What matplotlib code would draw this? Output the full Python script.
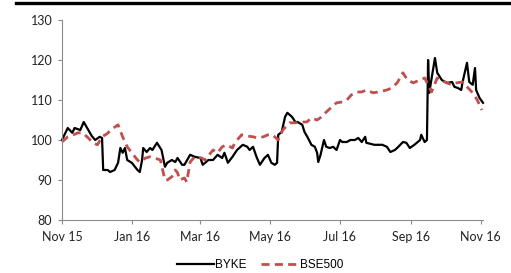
import matplotlib
matplotlib.use("Agg")
import matplotlib.pyplot as plt
import matplotlib.dates as mdates
from matplotlib.lines import Line2D
import pandas as pd

byke_dates = ["2015-11-01","2015-11-06","2015-11-10","2015-11-12","2015-11-17","2015-11-20","2015-11-23",
    "2015-11-27","2015-11-30","2015-12-04","2015-12-06","2015-12-07","2015-12-11","2015-12-13","2015-12-17",
    "2015-12-20","2015-12-22","2015-12-24","2015-12-26","2015-12-28","2016-01-01","2016-01-06","2016-01-08",
    "2016-01-10","2016-01-11","2016-01-14","2016-01-17","2016-01-19","2016-01-23","2016-01-27","2016-01-30",
    "2016-02-01","2016-02-05","2016-02-08","2016-02-10","2016-02-14","2016-02-16","2016-02-21","2016-02-25",
    "2016-03-01","2016-03-03","2016-03-08","2016-03-12","2016-03-16","2016-03-20","2016-03-22","2016-03-25",
    "2016-03-29","2016-04-02","2016-04-07","2016-04-11","2016-04-13","2016-04-16","2016-04-19","2016-04-22",
    "2016-04-26","2016-04-29","2016-05-02","2016-05-05","2016-05-07","2016-05-08","2016-05-11","2016-05-14",
    "2016-05-16","2016-05-20","2016-05-23","2016-05-25","2016-05-29","2016-05-31","2016-06-03","2016-06-06",
    "2016-06-09","2016-06-11","2016-06-12","2016-06-14","2016-06-17","2016-06-19","2016-06-22","2016-06-25",
    "2016-06-28","2016-07-01","2016-07-03","2016-07-07","2016-07-10","2016-07-14","2016-07-17","2016-07-20",
    "2016-07-23","2016-07-24","2016-07-31","2016-08-07","2016-08-11","2016-08-14","2016-08-18","2016-08-21",
    "2016-08-25","2016-08-28","2016-08-31","2016-09-04","2016-09-09","2016-09-10","2016-09-13","2016-09-15",
    "2016-09-16","2016-09-17","2016-09-22","2016-09-24","2016-09-28","2016-10-01","2016-10-03","2016-10-07",
    "2016-10-09","2016-10-12","2016-10-15","2016-10-16","2016-10-20","2016-10-22","2016-10-25","2016-10-27",
    "2016-10-28","2016-10-31","2016-11-03"]
byke_values = [100, 103, 101.8, 103, 102.5, 104.5, 103,
    101, 100, 100.8, 100.5, 92.5, 92.5, 92, 92.5,
    94.3, 98, 96.8, 98, 95, 94.3, 92.5, 92,
    95, 98, 97, 98, 97.5, 99.3, 97.5, 93.3,
    94.3, 95, 94.5, 95.5, 93.8, 93.8, 96.3, 95.8,
    95.5, 93.8, 95, 95, 96.3, 95.5, 96.8, 94.3,
    95.8, 97.5, 98.8, 98.3, 97.5, 98.3, 95.8, 93.8,
    95.5, 96.3, 94.3, 93.8, 94.3, 101.3, 102, 105.8,
    106.8, 105.8, 104.5, 104.5, 103.8, 102, 100.5, 98.8,
    98.3, 96.8, 94.5, 96.3, 100, 98.3, 98, 98.3,
    97.5, 100, 99.5, 99.5, 100, 100, 100.5, 99.5,
    100.8, 99.3, 98.8, 98.8, 98.3, 97, 97.5, 98.3,
    99.5, 99.3, 98, 98.8, 100, 101.3, 99.5, 100,
    120, 111.8, 120.5, 116.8, 115, 114.5, 114.3, 114.5,
    113.3, 113, 112.5, 114.3, 119.3, 114.5, 113.8, 118,
    112.5, 110.5, 109.3]

bse_dates = ["2015-11-01","2015-11-06","2015-11-11","2015-11-15","2015-11-19","2015-11-24","2015-11-28",
    "2015-12-02","2015-12-06","2015-12-10","2015-12-16","2015-12-20","2015-12-24","2015-12-28","2016-01-01",
    "2016-01-06","2016-01-08","2016-01-13","2016-01-17","2016-01-21","2016-01-26","2016-01-28","2016-01-30",
    "2016-02-01","2016-02-05","2016-02-08","2016-02-10","2016-02-12","2016-02-16","2016-02-18","2016-02-21",
    "2016-02-25","2016-03-02","2016-03-05","2016-03-12","2016-03-16","2016-03-20","2016-03-24","2016-03-29",
    "2016-03-31","2016-04-06","2016-04-11","2016-04-16","2016-04-20","2016-04-25","2016-04-29","2016-05-03",
    "2016-05-08","2016-05-12","2016-05-18","2016-05-23","2016-05-29","2016-06-02","2016-06-06","2016-06-11",
    "2016-06-15","2016-06-19","2016-06-24","2016-06-28","2016-07-03","2016-07-07","2016-07-11","2016-07-16",
    "2016-07-20","2016-07-24","2016-07-30","2016-08-03","2016-08-11","2016-08-15","2016-08-20","2016-08-25",
    "2016-08-29","2016-09-03","2016-09-09","2016-09-13","2016-09-17","2016-09-19","2016-09-24","2016-09-28",
    "2016-10-02","2016-10-07","2016-10-11","2016-10-16","2016-10-21","2016-10-25","2016-10-29","2016-11-02"]
bse_values = [99.5, 100.8, 101.3, 101.8, 101.8, 100.5, 99.3,
    98.8, 100.8, 101.5, 103, 103.8, 100.8, 98.3, 96.8,
    95, 94.5, 95.5, 95.8, 95.5, 95, 92.5, 90,
    90, 90.8, 92.5, 91.8, 90, 90.5, 89.5, 94.5,
    95.8, 95.5, 95, 97.5, 96.8, 98.3, 98.8, 98,
    99.3, 101.3, 101, 100.8, 100.5, 100.8, 101.3, 101.3,
    100, 102.5, 104.3, 104.3, 104.5, 104.5, 105.5, 105,
    105.8, 107, 108.3, 109.3, 109.5, 110, 111.3, 112,
    112, 112.5, 111.8, 112, 112.5, 113, 114.3, 116.8,
    115, 114.3, 115, 115.5, 113.3, 112, 115.5, 115,
    114.3, 113.8, 114.3, 114.5, 113, 111.8, 110, 107.5]

series_names = ["BYKE", "BSE500"]
x_tick_labels = ["Nov 15", "Jan 16", "Mar 16", "May 16", "Jul 16", "Sep 16", "Nov 16"]
x_tick_dates = ["2015-11-01", "2016-01-01", "2016-03-01", "2016-05-01", "2016-07-01", "2016-09-01", "2016-11-01"]
y_ticks = [80, 90, 100, 110, 120, 130]

W, H = 511, 273
fig = plt.figure(figsize=(W / 100, H / 100), dpi=100)
ax = fig.add_axes([62 / W, (H - 220) / H, (483 - 62) / W, 200 / H])

tick_font = dict(family=["Lato", "DejaVu Sans"], size=9, color="#222222")

ax.plot(pd.to_datetime(byke_dates), byke_values, color="black", lw=1.6,
        label=series_names[0], solid_joinstyle="round", clip_on=False)
red_line, = ax.plot(pd.to_datetime(bse_dates), bse_values, color="#C0504D", lw=2.0,
        label=series_names[1], clip_on=False)
red_line.set_dashes((2.9, 1.9))

ax.set_xlim(pd.Timestamp("2015-11-01"), pd.Timestamp("2016-11-03"))
ax.set_ylim(80, 130)
ax.set_yticks(y_ticks)
ax.set_yticklabels([str(v) for v in y_ticks], **tick_font)
ax.set_xticks(pd.to_datetime(x_tick_dates))
ax.set_xticklabels(x_tick_labels, **tick_font)

for s in ["top", "right"]:
    ax.spines[s].set_visible(False)
for s in ["left", "bottom"]:
    ax.spines[s].set_color("#8c8c8c")
    ax.spines[s].set_linewidth(0.8)
ax.tick_params(axis="both", direction="out", length=3, width=0.8, color="#8c8c8c", pad=4)
ax.tick_params(axis="x", pad=5)

leg = fig.legend(loc="center", bbox_to_anchor=(260 / W, 8 / H), ncol=2, frameon=False,
                 prop=dict(family=["Liberation Sans", "DejaVu Sans"], size=8.5),
                 handlelength=3.2, handletextpad=0.1, columnspacing=1.2)

fig.add_artist(Line2D([16 / W, 1.0], [1 - 2.5 / H, 1 - 2.5 / H], color="black", lw=2.4,
                      transform=fig.transFigure))

fig.savefig("out.png", dpi=100)
